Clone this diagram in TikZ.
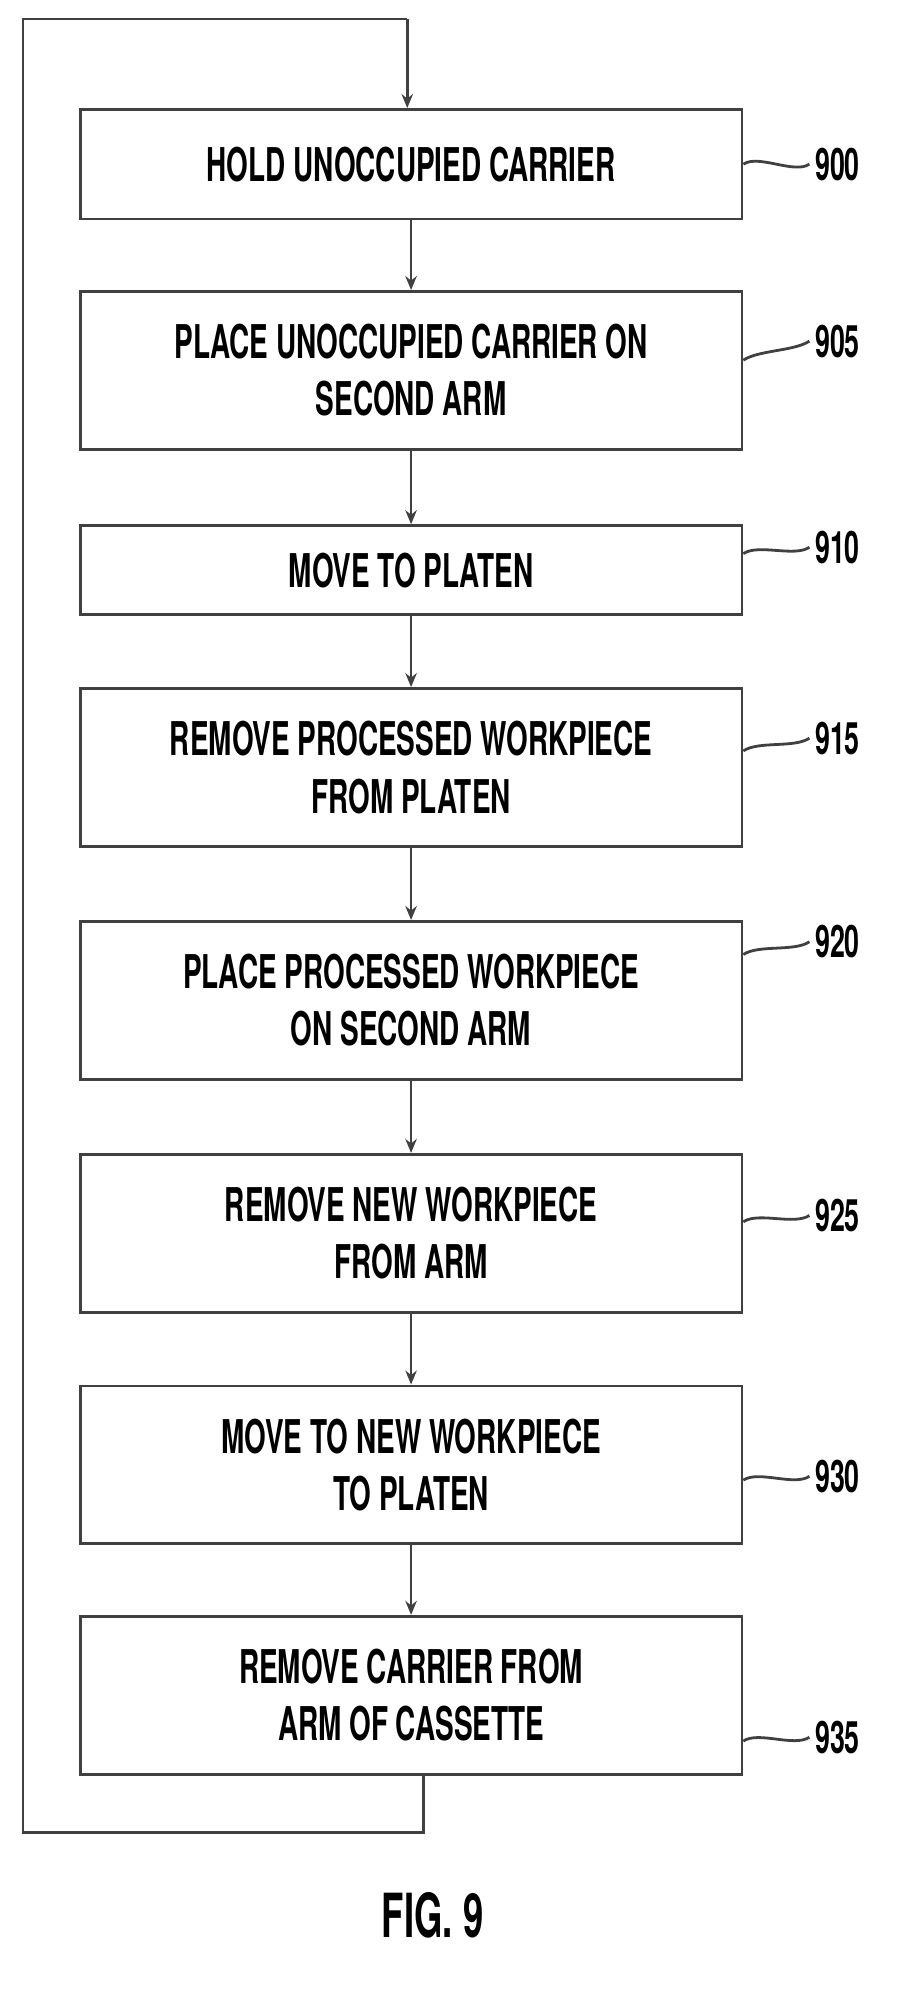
\documentclass[tikz,border=0pt]{standalone}
\usepackage{fontspec}
\setmainfont[FakeStretch=0.6]{TeX Gyre Heros}
\usetikzlibrary{arrows.meta,calc}

\begin{document}
\begin{tikzpicture}[x=0.05cm,y=-0.05cm,
    stepbox/.style={draw=black!75, line width=0.11cm, minimum width=26cm, align=center,
      font=\bfseries\fontsize{52}{64}\selectfont, inner sep=0pt},
    flow/.style={draw=black!75, line width=0.11cm, -{Stealth[length=0.55cm,width=0.45cm,open]}},
    lead/.style={draw=black!75, line width=0.11cm},
    reflabel/.style={font=\bfseries\fontsize{50}{56}\selectfont, anchor=west}]
  \useasboundingbox (0,0) rectangle (720,1577);

  % === Steps ===
  \node[stepbox, minimum height=4.3cm] (s900) at (323,129) {HOLD UNOCCUPIED CARRIER};
  \node[stepbox, minimum height=6.2cm] (s905) at (323,291) {PLACE UNOCCUPIED CARRIER ON\\SECOND ARM};
  \node[stepbox, minimum height=3.5cm] (s910) at (323,448) {MOVE TO PLATEN};
  \node[stepbox, minimum height=6.2cm] (s915) at (323,603) {REMOVE PROCESSED WORKPIECE\\FROM PLATEN};
  \node[stepbox, minimum height=6.2cm] (s920) at (323,786) {PLACE PROCESSED WORKPIECE\\ON SECOND ARM};
  \node[stepbox, minimum height=6.2cm] (s925) at (323,969) {REMOVE NEW WORKPIECE\\FROM ARM};
  \node[stepbox, minimum height=6.2cm] (s930) at (323,1151) {MOVE TO NEW WORKPIECE\\TO PLATEN};
  \node[stepbox, minimum height=6.2cm] (s935) at (323,1332) {REMOVE CARRIER FROM\\ARM OF CASSETTE};

  % === Arrows ===
  \foreach \a/\b in {s900/s905,s905/s910,s910/s915,s915/s920,s920/s925,s925/s930,s930/s935}
    \draw[flow] (\a) -- (\b);

  % === Loop back ===
  \coordinate (c1) at (333,1440);
  \coordinate (c2) at (18,1440);
  \coordinate (c3) at (18,15);
  \coordinate (c4) at (320,15);
  \draw[lead] (s935.south -| c1) -- (c1) -- (c2) -- (c3) -- (c4);
  \draw[flow] (c4) -- (c4 |- s900.north);

  % === Reference numerals ===
  \foreach \n/\y/\ly in {900/129/129,905/283/268,910/435/430,915/590/580,920/750/740,925/960/955,930/1163/1160,935/1368/1365}{
    \node[reflabel] (l\n) at (638,\ly) {\n};
    \draw[lead] (s\n.east |- 0,\y) .. controls +(12,-8) and +(-12,8) .. ($(l\n.west)+(-2,0)$);
  }

  \node[font=\bfseries\fontsize{68}{76}\selectfont] (fig) at (340,1505) {FIG. 9};
\end{tikzpicture}
\end{document}
